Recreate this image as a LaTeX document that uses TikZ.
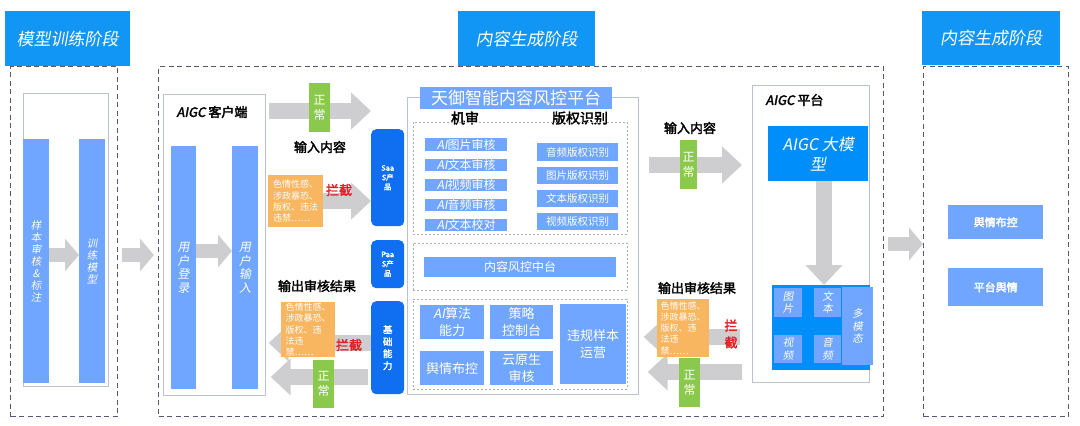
\documentclass[tikz,border=0pt]{standalone}
\usepackage{fontspec}
\setmainfont{Noto Sans CJK SC}[AutoFakeBold=2.5,AutoFakeSlant=0.18]
\usetikzlibrary{arrows.meta,calc}
\pgfdeclarelayer{bg}
\pgfsetlayers{bg,main}
\definecolor{hdr}{RGB}{18,150,245}
\definecolor{lb}{RGB}{112,166,255}
\definecolor{db}{RGB}{16,110,240}
\definecolor{mb}{RGB}{0,142,250}
\definecolor{ag}{RGB}{206,206,208}
\definecolor{gr}{RGB}{139,201,77}
\definecolor{org}{RGB}{249,182,96}
\definecolor{rd}{RGB}{226,30,36}
\definecolor{dsh}{RGB}{84,88,116}
\definecolor{lg}{RGB}{172,172,178}
\definecolor{bd}{RGB}{188,194,212}
\newcommand\fsz[2]{\fontsize{#1pt}{#2pt}\selectfont}
\newcommand\RB[7]{\node[#1,anchor=north west,inner sep=0pt,minimum width={(#5-#3)*1pt},minimum height={(#6-#4)*1pt}] (#2) at (#3,#4) {#7};}
\tikzset{
  hdrbox/.style={fill=hdr,text=white,font=\fsz{17}{20}\itshape},
  outerdash/.style={draw=dsh,line width=1.1pt,dash pattern=on 5pt off 3.5pt},
  innerdash/.style={draw=lg,line width=0.6pt,dash pattern=on 2pt off 2pt},
  panelbox/.style={draw=bd,line width=0.7pt},
  vbar/.style={fill=lb,text=white,align=center,font=\fsz{12}{13.5}\itshape},
  vbarsmall/.style={fill=lb,text=white,align=center,font=\fsz{10.5}{12}\itshape},
  itembox/.style={fill=lb,text=white,align=center,font=\fsz{12}{13}},
  itemsmall/.style={fill=lb,text=white,align=center,font=\fsz{10.5}{12}},
  itembig/.style={fill=lb,text=white,align=center,font=\fsz{13}{16.5}},
  dbox/.style={fill=db,text=white,rounded corners=5pt,align=center,font=\fsz{7.5}{9.5}\bfseries},
  ttlbox/.style={fill=lb,text=white,font=\fsz{17}{20}},
  okbox/.style={fill=gr,text=white,align=center,font=\fsz{12}{15}},
  orgbox/.style={fill=org,text=white,align=left,font=\fsz{9}{11.2}},
  lbl/.style={font=\fsz{13}{15}\bfseries,text=black},
  redlbl/.style={font=\fsz{13}{15}\bfseries,text=rd,align=center},
  mbox/.style={fill=mb,text=white,align=center,font=\fsz{16}{20}\itshape},
  mmi/.style={fill=lb,text=white,align=center,font=\fsz{10.5}{12.5}\itshape},
  rbox/.style={fill=lb,text=white,font=\fsz{11}{13}\bfseries},
  fat/.style={draw=ag,line width=16pt,-{Triangle[length=20pt,width=36pt]}},
  fatsmall/.style={draw=ag,line width=14pt,-{Triangle[length=14pt,width=32pt]}},
}
\begin{document}
\begin{tikzpicture}[x=1pt,y=-1pt]
\useasboundingbox (0,0) rectangle (1080,426);
% dashed stage frames
\RB{outerdash}{lp}{10}{66}{117}{416}{}
\RB{outerdash}{mp}{158}{66}{883}{416}{}
\RB{outerdash}{rp}{923}{66}{1068}{416}{}
% headers
\RB{hdrbox}{h1}{5}{11}{130}{66}{模型训练阶段}
\RB{hdrbox}{h2}{458}{11}{595}{66}{内容生成阶段}
\RB{hdrbox}{h3}{922}{11}{1060}{65}{内容生成阶段}
% left stage
\RB{panelbox}{lin}{23}{93}{108}{386}{}
\RB{vbarsmall}{b1}{23}{139}{49}{383}{样\\本\\审\\核\\\&\\标\\注}
\RB{vbarsmall}{b2}{79}{139}{105}{383}{训\\练\\模\\型}
% AIGC client
\RB{panelbox}{cl}{163}{94}{265}{395}{}
\node[lbl,anchor=west] (cltitle) at (173,112) {\textit{AIGC} 客户端};
\RB{vbar}{cb1}{171}{146}{196}{389}{用\\户\\登\\录}
\RB{vbar}{cb2}{232}{146}{258}{389}{用\\户\\输\\入}
% products column
\RB{dbox}{saas}{371}{129}{404}{226}{Saa\\S产\\品}
\RB{dbox}{paas}{371}{240}{404}{288}{Paa\\S产\\品}
\RB{dbox,font=\fsz{9.5}{12}\bfseries}{base}{371}{301}{404}{394}{基\\础\\能\\力}
% platform
\RB{panelbox}{pf}{407}{97}{638}{394}{}
\RB{ttlbox}{pt}{420}{87}{612}{109}{天御智能内容风控平台}
\node[lbl,font=\fsz{14}{16}\bfseries] (jishen) at (465,118) {机审};
\node[lbl,font=\fsz{14}{16}\bfseries] (bq) at (580,118) {版权识别};
\RB{innerdash}{d1}{413}{122}{627}{234}{}
\RB{itembox}{a1}{425}{138}{507}{151}{\textit{AI}图片审核}
\RB{itembox}{a2}{425}{159}{507}{171}{\textit{AI}文本审核}
\RB{itembox}{a3}{425}{179}{507}{191}{\textit{AI}视频审核}
\RB{itembox}{a4}{425}{199}{507}{211}{\textit{AI}音频审核}
\RB{itembox}{a5}{425}{219}{507}{231}{\textit{AI}文本校对}
\RB{itemsmall}{v1}{537}{143}{618}{161}{音频版权识别}
\RB{itemsmall}{v2}{537}{167}{618}{184}{图片版权识别}
\RB{itemsmall}{v3}{537}{190}{618}{207}{文本版权识别}
\RB{itemsmall}{v4}{537}{213}{618}{230}{视频版权识别}
\RB{innerdash}{d2}{413}{243}{627}{290}{}
\RB{itembox}{cc}{424}{257}{616}{277}{内容风控中台}
\RB{innerdash}{d3}{413}{299}{627}{389}{}
\RB{itembig}{c1}{420}{305}{484}{339}{\textit{AI}算法\\能力}
\RB{itembig}{c2}{490}{305}{553}{339}{策略\\控制台}
\RB{itembig}{c3}{420}{351}{484}{385}{舆情布控}
\RB{itembig}{c4}{490}{351}{553}{385}{云原生\\审核}
\RB{itembig}{c5}{560}{304}{626}{384}{违规样本\\运营}
% AIGC platform
\RB{panelbox}{ap}{752}{85}{869}{382}{}
\node[lbl,anchor=west] (aptitle) at (762,100) {\textit{AIGC} 平台};
\RB{mbox}{mdl}{768}{126}{868}{181}{AIGC 大模\\型}
\RB{mbox}{mm}{772}{285}{870}{370}{}
\RB{mmi}{i1}{774}{288}{802}{317}{图\\片}
\RB{mmi}{i2}{814}{288}{841}{317}{文\\本}
\RB{mmi}{i3}{774}{335}{802}{363}{视\\频}
\RB{mmi}{i4}{814}{335}{841}{363}{音\\频}
\RB{mmi}{i5}{842}{287}{873}{365}{多\\模\\态}
% right stage
\RB{rbox}{r1}{948}{205}{1043}{239}{舆情布控}
\RB{rbox}{r2}{948}{268}{1043}{306}{平台舆情}
% input side labels
\node[lbl] (in1) at (320,147) {输入内容};
\node[lbl] (in2) at (690,128) {输入内容};
\node[lbl] (out1) at (317,286) {输出审核结果};
\node[lbl] (out2) at (697,288) {输出审核结果};
\RB{orgbox}{o1}{268}{175}{323}{227}{色情性感、\\涉政暴恐、\\版权、违法\\违禁……}
\RB{orgbox}{o2}{281}{302}{335}{357}{色情性感、\\涉政暴恐、\\版权、违\\法违\\禁……}
\RB{orgbox}{o3}{657}{299}{709}{357}{色情性感、\\涉政暴恐、\\版权、违\\法违\\禁……}
\node[redlbl] (x1) at (339,190) {拦截};
\node[redlbl] (x2) at (349,345) {拦截};
\node[redlbl,font=\fsz{13}{17}\bfseries] (x3) at (731,334) {拦\\截};
\RB{okbox}{ok1}{309}{83}{330}{132}{正\\常}
\RB{okbox}{ok2}{313}{360}{334}{408}{正\\常}
\RB{okbox}{ok3}{680}{140}{697}{189}{正\\常}
\RB{okbox}{ok4}{679}{358}{700}{407}{正\\常}
% arrows
\begin{pgfonlayer}{bg}
\draw[fatsmall] (b1.east |- 0,255) -- (b2.west |- 0,255);
\draw[fatsmall,shorten <=4pt,shorten >=4pt] (lp.east |- 0,255) -- (mp.west |- 0,255);
\draw[fatsmall] (cb1.east |- 0,251) -- (cb2.west |- 0,251);
\draw[fat,shorten <=3pt] (cl.east |- 0,111) -- (saas.west |- 0,111);
\draw[fat] (o1.east |- 0,201) -- (saas.west |- 0,201);
\draw[fat,shorten >=3pt] (base.west |- 0,343) -- (cl.east |- 0,343);
\draw[fat,shorten >=5pt,shorten <=3pt] (base.west |- 0,377) -- (cl.east |- 0,377);
\draw[fat,shorten <=10pt,shorten >=10pt] (pf.east |- 0,165) -- (ap.west |- 0,165);
\draw[fat,shorten <=12pt,shorten >=5pt] (ap.west |- 0,337) -- (pf.east |- 0,337);
\draw[fat,shorten <=10pt,shorten >=9pt] (ap.west |- 0,372) -- (pf.east |- 0,372);
\draw[fat] (mdl.south -| 824,0) -- (mm.north -| 824,0);
\draw[fatsmall,shorten <=4pt] (mp.east |- 0,244) -- (rp.west |- 0,244);
\end{pgfonlayer}
\end{tikzpicture}
\end{document}
